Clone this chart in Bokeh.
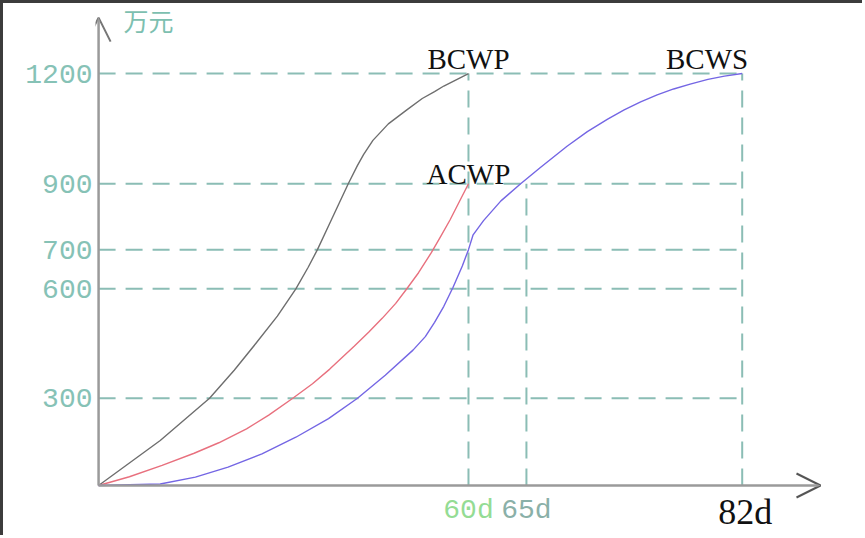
import numpy as np
from bokeh.plotting import figure
from bokeh.models import Range1d, FixedTicker, Arrow, OpenHead, ColumnDataSource
from bokeh.core.properties import value
from bokeh.embed import file_html
from bokeh.resources import INLINE

# ---------------- data ----------------
series_names = ["BCWP", "ACWP", "BCWS"]

bcwp_days = [0, 10, 18, 22, 25.5, 29, 32, 34, 35.5, 37.5, 39, 40.5, 42, 43, 44.5, 47, 50, 52.5, 54.5, 56, 60]
bcwp_vals = [0, 155, 300, 377, 450, 525, 600, 655, 700, 780, 840, 900, 950, 980, 1018, 1063, 1101, 1132, 1151, 1166, 1200]

acwp_days = [0, 5, 10.3, 15.5, 19.5, 24, 27.6, 31.5, 34.7, 37.5, 41.5, 43.8, 46, 48.2, 50, 51.9, 54, 55.5, 57, 60]
acwp_vals = [0, 30, 69, 111, 147, 195, 242, 300, 340, 380, 443, 481, 519, 560, 600, 641, 693, 740, 790, 900]

bcws_days = [0, 10, 15.7, 21, 26.5, 32, 37.3, 42, 46.5, 51, 53, 54.5, 56, 57.5, 59, 60,
             60.4, 61.3, 62.8, 64.5, 66.1, 68.2, 69.8, 71.4, 72.7, 74, 75.3, 76.6, 77.9, 79.3, 80.6, 82]
bcws_vals = [0, 5, 29, 63, 109, 166, 230, 300, 363, 432, 469, 508, 552, 604, 658, 700,
             745, 788, 848, 900, 944, 1002, 1042, 1076, 1101, 1123, 1142, 1158, 1171, 1184, 1193, 1200]

y_ticks = [300, 600, 700, 900, 1200]
x_ticks = [60, 65, 82]
x_tick_labels = ["60d", "65d", "82d"]
x_guide_top = [1200, 900, 1200]     # vertical guides rise to these values
y_unit = "万元"

# ---------------- schematic axes ----------------
# the sketch spaces its marks unevenly on both axes; map values onto the drawn axes
SCHEMA_DAYS = [0, 60, 65, 82]
SCHEMA_XPOS = [0, 60, 69.4, 104.4]
SCHEMA_VALS = [0, 300, 600, 700, 900, 1200]
SCHEMA_YPOS = [0, 254, 573, 687, 879, 1200]


def tx(d):
    return np.interp(np.asarray(d, dtype=float), SCHEMA_DAYS, SCHEMA_XPOS)


def ty(v):
    return np.interp(np.asarray(v, dtype=float), SCHEMA_VALS, SCHEMA_YPOS)


X_ARROW_END = 117.1
Y_ARROW_END = 1363

p = figure(width=862, height=535, output_backend="svg", toolbar_location=None,
           x_range=Range1d(-0.5, 124.4), y_range=Range1d(-154.4, 1404),
           x_axis_location=None, title=None,
           min_border_left=92, min_border_right=0, min_border_top=0, min_border_bottom=0)
p.styles = {"border-left": "3px solid #3c3c3c", "border-top": "3px solid #3c3c3c"}
p.outline_line_color = None
p.grid.visible = False
p.background_fill_color = "white"
p.border_fill_color = "white"

# y axis: tick labels only
ytick_pos = [float(v) for v in ty(y_ticks)]
yax = p.yaxis[0]
yax.ticker = FixedTicker(ticks=ytick_pos)
yax.major_label_overrides = {pos: str(v) for pos, v in zip(ytick_pos, y_ticks)}
yax.axis_line_color = None
yax.major_tick_line_color = None
yax.major_tick_out = 0
yax.major_tick_in = 0
yax.minor_tick_line_color = None
yax.major_label_text_color = "#86c2b6"
yax.major_label_text_font = "Liberation Mono"
yax.major_label_text_font_size = "28px"
yax.major_label_standoff = 3

grid_color = "#8bbdb5"
# horizontal guides
p.segment(x0=[0] * len(y_ticks), y0=ty(y_ticks), x1=tx([x_ticks[-1]] * len(y_ticks)), y1=ty(y_ticks),
          line_color=grid_color, line_width=2, line_dash="17 10")
# vertical guides
p.segment(x0=tx(x_ticks), y0=[0] * len(x_ticks), x1=tx(x_ticks), y1=ty(x_guide_top),
          line_color=grid_color, line_width=2, line_dash="17 10")

# curves
p.line(tx(bcwp_days), ty(bcwp_vals), line_color="#6e6e6e", line_width=1.4, line_join="round")
p.line(tx(acwp_days), ty(acwp_vals), line_color="#e8707e", line_width=1.4, line_join="round")
p.line(tx(bcws_days), ty(bcws_vals), line_color="#7466e4", line_width=1.4, line_join="round")

# axes with arrows
p.add_layout(Arrow(x_start=0, y_start=0, x_end=0, y_end=Y_ARROW_END,
                   line_color="#9a9a9a", line_width=2.5,
                   end=OpenHead(size=24, line_color="#777777", line_width=2)))
p.add_layout(Arrow(x_start=0, y_start=0, x_end=X_ARROW_END, y_end=0,
                   line_color="#9a9a9a", line_width=2.5,
                   end=OpenHead(size=24, line_color="#555555", line_width=2)))

# unit label
p.text(x=[0], y=[Y_ARROW_END], text=[y_unit], x_offset=25, y_offset=2,
       text_baseline="middle", text_align="left",
       text_font=value("Noto Sans CJK SC"), text_font_size="25px", text_color="#7dbfb0")

# x tick labels
src_xt = ColumnDataSource(dict(x=tx(x_ticks[:2]), y=[0, 0], text=x_tick_labels[:2],
                               color=["#94dc94", "#8ab0a8"]))
p.text(x="x", y="y", text="text", source=src_xt, text_color="color",
       text_align="center", text_baseline="alphabetic", y_offset=25,
       text_font=value("Liberation Mono"), text_font_size="28px")
p.text(x=tx(x_ticks[2:]), y=[0], text=x_tick_labels[2:], x_offset=3, y_offset=27,
       text_align="center", text_baseline="alphabetic",
       text_font=value("Liberation Serif"), text_font_size="36px", text_color="#111111")

# series labels at the curves' end points
p.text(x=tx([bcwp_days[-1]]), y=ty([bcwp_vals[-1]]), text=series_names[:1], y_offset=-15,
       text_align="center", text_baseline="alphabetic",
       text_font=value("Liberation Serif"), text_font_size="29px", text_color="#111111")
p.text(x=tx([acwp_days[-1]]), y=ty([acwp_vals[-1]]), text=series_names[1:2], y_offset=-10,
       text_align="center", text_baseline="alphabetic",
       text_font=value("Liberation Serif"), text_font_size="29px", text_color="#111111")
p.text(x=tx([bcws_days[-1]]), y=ty([bcws_vals[-1]]), text=series_names[2:], x_offset=6, y_offset=-15,
       text_align="right", text_baseline="alphabetic",
       text_font=value("Liberation Serif"), text_font_size="29px", text_color="#111111")

open("out.html", "w").write(file_html(p, INLINE))
